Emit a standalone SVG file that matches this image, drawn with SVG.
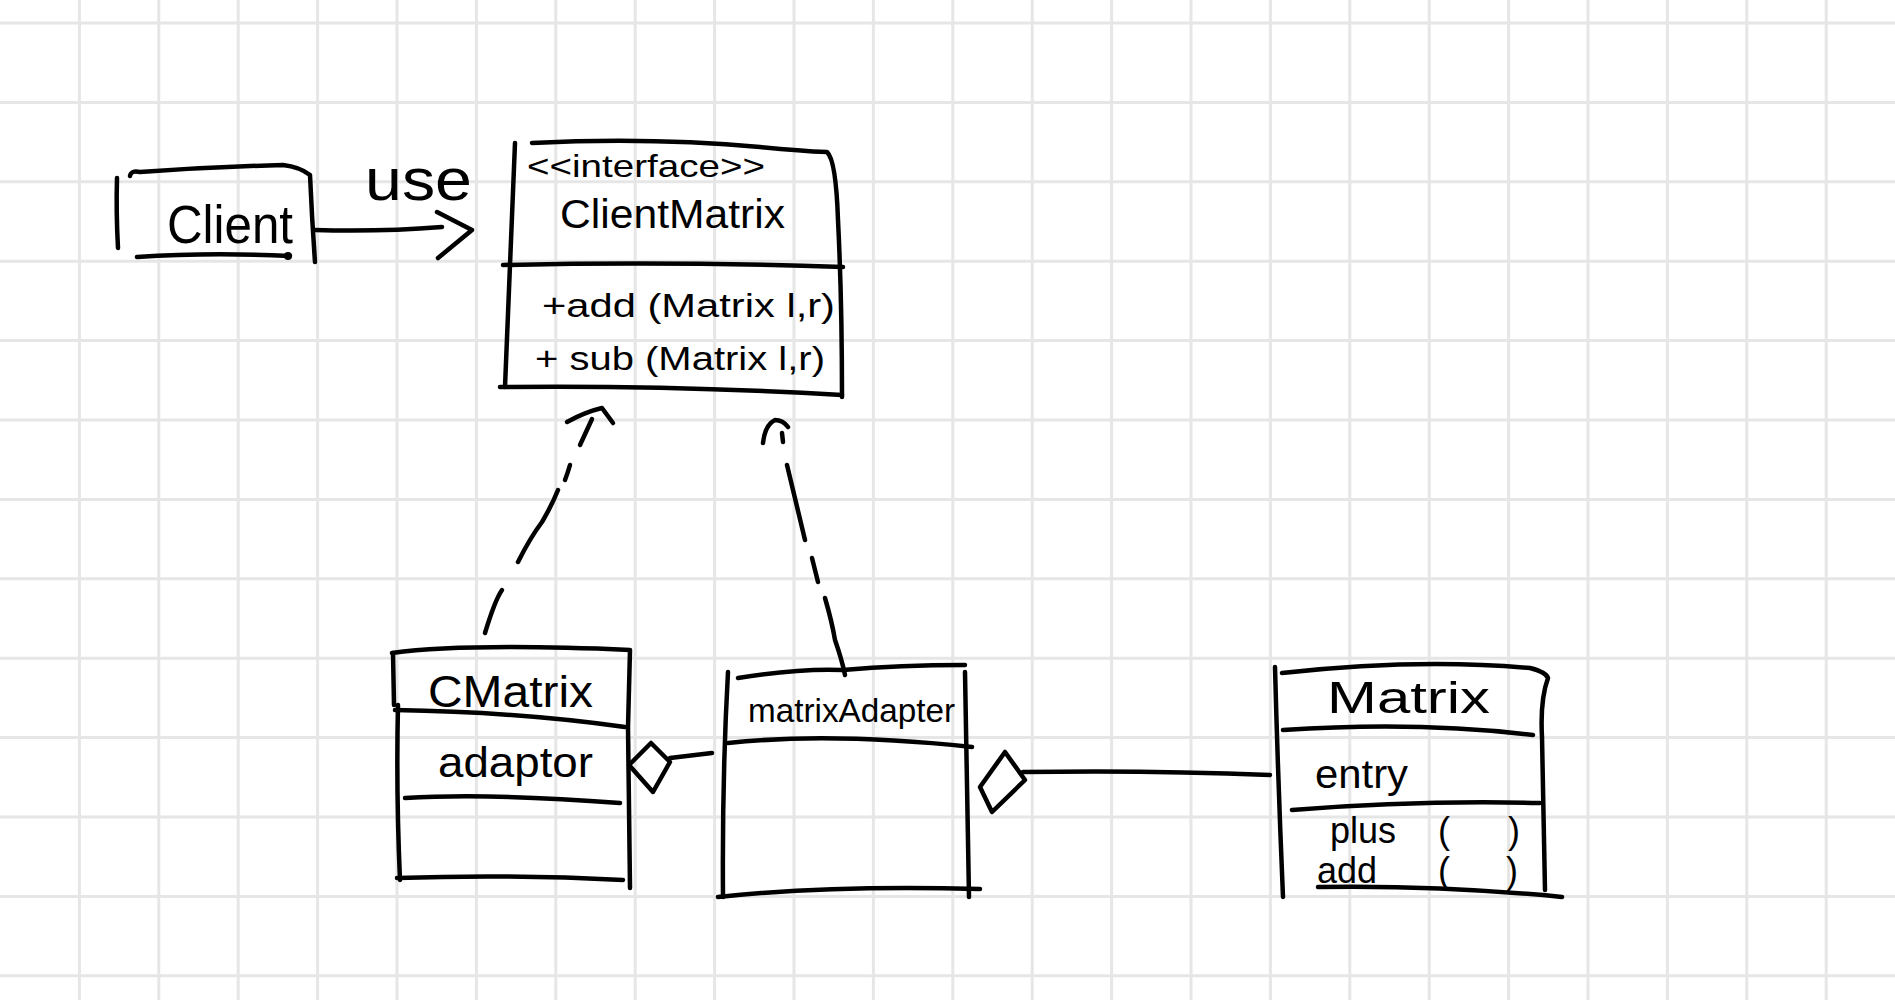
<svg xmlns="http://www.w3.org/2000/svg" width="1895" height="1000" viewBox="0 0 1895 1000">
<style>
.grid{stroke:#e6e6e6;stroke-width:3;fill:none}
.ink{stroke:#000;stroke-width:4.5;fill:none;stroke-linecap:round;stroke-linejoin:round}
.t{font-family:"Liberation Sans","DejaVu Sans",sans-serif;fill:#000}
</style>
<rect width="1895" height="1000" fill="#fff"/>
<g id="grid" class="grid">
<path d="M79.4,0V1000M158.8,0V1000M238.2,0V1000M317.6,0V1000M397,0V1000M476.4,0V1000M555.8,0V1000M635.2,0V1000M714.6,0V1000M794,0V1000M873.4,0V1000M952.8,0V1000M1032.2,0V1000M1111.6,0V1000M1191,0V1000M1270.4,0V1000M1349.8,0V1000M1429.2,0V1000M1508.6,0V1000M1588,0V1000M1667.4,0V1000M1746.8,0V1000M1826.2,0V1000"/>
<path d="M0,23H1895M0,102.4H1895M0,181.8H1895M0,261.2H1895M0,340.6H1895M0,420H1895M0,499.4H1895M0,578.8H1895M0,658.2H1895M0,737.6H1895M0,817H1895M0,896.4H1895M0,975.8H1895"/>
</g>
<g id="connectors" class="ink">
<g id="use-arrow">
<path d="M315,230 Q380,232 442,227"/>
<path d="M437,212 L472,230 L438,258"/>
</g>
<g id="realize-cmatrix">
<path d="M567,422 Q585,412 602,408 L613,423"/>
<path d="M592,419 L580,445"/>
<path d="M570,465 Q568,472 565,480"/>
<path d="M558,490 Q552,505 542,522 Q530,538 518,562"/>
<path d="M502,590 Q495,600 485,633"/>
</g>
<g id="realize-adapter">
<path d="M763,443 Q765,425 775,420 Q783,420 788,427"/>
<path d="M782,433 L783,442"/>
<path d="M787,465 L805,540"/>
<path d="M812,558 L818,582"/>
<path d="M825,598 Q832,622 835,640 Q842,660 845,675"/>
</g>
<g id="agg-cmatrix">
<path d="M629,765 L651,743 L670,762 L653,792 Z"/>
<path d="M670,758 L712,753"/>
</g>
<g id="agg-matrix">
<path d="M980,787 L1005,752 L1025,780 L992,812 Z"/>
<path d="M1023,772 Q1150,770 1270,775"/>
</g>
</g>
<g id="client">
<path class="ink" d="M117,178 Q116,212 118,248"/>
<path class="ink" d="M130,176 Q131,170 140,172 Q210,167 283,165 Q300,167 310,175 Q312,220 315,262"/>
<path class="ink" d="M137,257 Q210,252 290,256"/>
<circle cx="288" cy="256" r="4"/>
<text class="t" x="167" y="243" font-size="54" textLength="126" lengthAdjust="spacingAndGlyphs">Client</text>
<text class="t" x="365" y="200" font-size="60" textLength="107" lengthAdjust="spacingAndGlyphs">use</text>
</g>
<g id="clientmatrix">
<path class="ink" d="M515,143 L505,387"/>
<path class="ink" d="M532,143 Q650,137 760,147 Q800,151 827,152 Q836,160 838,220 Q842,300 842,397"/>
<path class="ink" d="M503,265 Q670,261 843,267"/>
<path class="ink" d="M500,387 Q670,385 842,395"/>
<text class="t" x="527" y="177" font-size="32" textLength="238" lengthAdjust="spacingAndGlyphs">&lt;&lt;interface&gt;&gt;</text>
<text class="t" x="560" y="228" font-size="40" textLength="225" lengthAdjust="spacingAndGlyphs">ClientMatrix</text>
<text class="t" x="542" y="317" font-size="34" textLength="293" lengthAdjust="spacingAndGlyphs">+add (Matrix l,r)</text>
<text class="t" x="535" y="370" font-size="34" textLength="290" lengthAdjust="spacingAndGlyphs">+ sub (Matrix l,r)</text>
</g>
<g id="cmatrix">
<path class="ink" d="M392,653 Q467,643 630,650 L628,727 L630,888"/>
<path class="ink" d="M393,653 L394,705 M398,705 Q396,790 400,880"/>
<path class="ink" d="M395,710 Q520,712 625,727"/>
<path class="ink" d="M405,798 Q490,793 620,803"/>
<path class="ink" d="M397,878 Q510,874 623,880"/>
<text class="t" x="428" y="707" font-size="44" textLength="165" lengthAdjust="spacingAndGlyphs">CMatrix</text>
<text class="t" x="438" y="777" font-size="42" textLength="155" lengthAdjust="spacingAndGlyphs">adaptor</text>
</g>
<g id="matrixadapter">
<path class="ink" d="M728,672 Q722,780 723,897"/>
<path class="ink" d="M738,678 Q800,668 843,670 Q900,665 965,665"/>
<path class="ink" d="M965,672 L969,897"/>
<path class="ink" d="M728,743 Q830,732 972,747"/>
<path class="ink" d="M718,897 Q830,885 980,889"/>
<text class="t" x="748" y="722" font-size="34" textLength="207" lengthAdjust="spacingAndGlyphs">matrixAdapter</text>
</g>
<g id="matrix">
<path class="ink" d="M1275,667 Q1278,780 1283,897"/>
<path class="ink" d="M1282,673 Q1417,658 1530,668 Q1546,672 1548,678 Q1540,700 1542,737 L1545,890"/>
<path class="ink" d="M1283,730 Q1417,721 1533,735"/>
<path class="ink" d="M1292,810 Q1417,800 1540,803"/>
<path class="ink" d="M1318,887 Q1440,885 1562,897"/>
<text class="t" x="1327" y="713" font-size="44" textLength="163" lengthAdjust="spacingAndGlyphs">Matrix</text>
<text class="t" x="1315" y="788" font-size="40" textLength="93" lengthAdjust="spacingAndGlyphs">entry</text>
<text class="t" y="843" font-size="36"><tspan x="1330">plus</tspan><tspan x="1438">(</tspan><tspan x="1508">)</tspan></text>
<text class="t" y="883" font-size="36"><tspan x="1317">add</tspan><tspan x="1438">(</tspan><tspan x="1506">)</tspan></text>
</g>
</svg>
